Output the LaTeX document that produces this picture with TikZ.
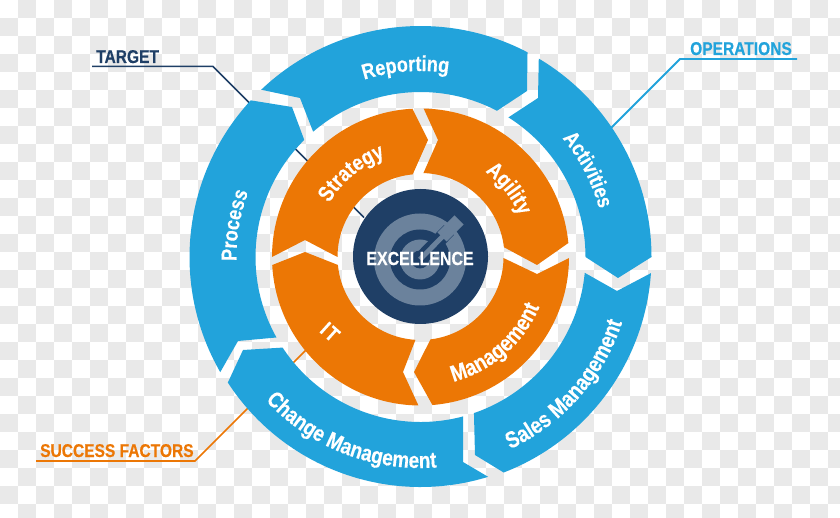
\documentclass[tikz,border=0pt]{standalone}
\usepackage{fontspec}
\setmainfont[FakeStretch=0.84,FakeBold=0.3]{Liberation Sans}
\usetikzlibrary{decorations.text}
\definecolor{ringblue}{HTML}{22A3DB}
\definecolor{ringorange}{HTML}{EC7705}
\definecolor{navy}{HTML}{1F3F66}
\definecolor{slate}{HTML}{6B829C}
\definecolor{check}{HTML}{E9E9E9}
\tikzset{
  blueseg/.style={fill=ringblue},
  orangeseg/.style={fill=ringorange},
  leader/.style={line width=#1,line cap=butt,line join=miter},
  sidelabel/.style={inner sep=0pt,font=\fontsize{18.5}{18.5}\selectfont\bfseries},
}
\newcommand{\PP}[2]{([shift={(#1:#2pt)}]420.5,-257)}
\newcommand{\cwlabel}[5]{% mid, half span, radius, size, text (clockwise: tops outward)
  \path[postaction={decorate},decoration={text along path,text align=center,
    text={|\fontsize{#4}{#4}\selectfont\bfseries\color{white}|#5}}]
    \PP{#1+#2}{#3} arc[start angle={#1+#2},end angle={#1-#2},radius=#3pt];}
\newcommand{\ccwlabel}[5]{% tops inward
  \path[postaction={decorate},decoration={text along path,text align=center,
    text={|\fontsize{#4}{#4}\selectfont\bfseries\color{white}|#5}}]
    \PP{#1-#2}{#3} arc[start angle={#1-#2},end angle={#1+#2},radius=#3pt];}
\begin{document}
\begin{tikzpicture}[x=1pt,y=1pt]
\useasboundingbox (0,-518) rectangle (840,0);
\begin{scope}
\clip (0,-518) rectangle (840,0);
\fill[white] (0,-518) rectangle (840,0);
\foreach \i in {0,...,46}{\foreach \j in {0,...,28}{
  \pgfmathparse{int(mod(\i+\j,2))}
  \ifnum\pgfmathresult=1
    \fill[check] ({\i*18},{-\j*18}) rectangle ({\i*18+18},{-\j*18-18});
  \fi}}
\end{scope}
% leaders
\coordinate (tgtA) at (92,-66.5);\coordinate (tgtB) at (213,-66.5);\coordinate (tgtC) at (364,-217.5);
\coordinate (opsA) at (797,-59);\coordinate (opsB) at (680,-59);\coordinate (opsC) at (610,-129);
\coordinate (sucA) at (36,-461);\coordinate (sucB) at (195,-461);\coordinate (sucC) at (306,-350);
\draw[leader=1.5pt,navy] (tgtA)--(tgtB)--(tgtC);
\draw[leader=1.8pt,ringblue] (opsA)--(opsB)--(opsC);
\draw[leader=1.6pt,ringorange] (sucA)--(sucB)--(sucC);
\node[sidelabel,navy,anchor=base west] (target) at (96,-63) {TARGET};
\node[sidelabel,ringblue,anchor=base west] (operations) at (690,-55) {OPERATIONS};
\node[sidelabel,ringorange,anchor=base west] (success) at (40,-457) {SUCCESS FACTORS};
% blue ring, centre (420.5,-257)
\fill[blueseg] \PP{133.6}{231} arc[start angle=133.6,end angle=62.4,radius=231pt] -- (527,-91) -- \PP{62.4}{165} arc[start angle=62.4,end angle=130.6,radius=165pt] -- (300,-98) -- cycle;
\fill[blueseg] \PP{59.2}{231} arc[start angle=59.2,end angle=0,radius=231pt] -- (618,-278) -- \PP{0}{165} arc[start angle=0,end angle=57.8,radius=165pt] -- (538,-98) -- cycle;
\fill[blueseg] \PP{-4}{231} arc[start angle=-4,end angle=-68.9,radius=231pt] -- (475,-455) -- \PP{-71.1}{165} arc[start angle=-71.1,end angle=-5.5,radius=165pt] -- (617,-291) -- cycle;
\fill[blueseg] \PP{213.1}{230} arc[start angle=213.1,end angle=287.1,radius=230pt] -- (463,-462) -- \PP{285}{165} arc[start angle=285,end angle=213.3,radius=165pt] -- (243,-350) -- cycle;
\fill[blueseg] \PP{137.3}{231} arc[start angle=137.3,end angle=209.9,radius=231pt] -- (238,-341) -- \PP{209.2}{165} arc[start angle=209.2,end angle=134.8,radius=165pt] -- (292,-107) -- cycle;
% orange ring
\fill[orangeseg] \PP{180}{148.5} arc[start angle=180,end angle=93.1,radius=148.5pt] -- (428,-140) -- \PP{95.4}{83} arc[start angle=95.4,end angle=180,radius=83pt] -- (305,-240) -- cycle;
\fill[orangeseg] \PP{88.8}{148.5} arc[start angle=88.8,end angle=5.4,radius=148.5pt] -- (537,-265) -- \PP{6.7}{84} arc[start angle=6.7,end angle=88,radius=84pt] -- (438,-140) -- cycle;
\fill[orangeseg] \PP{-0.4}{148.5} arc[start angle=-0.4,end angle=-85.4,radius=148.5pt] -- (414,-372) -- \PP{-83.1}{83} arc[start angle=-83.1,end angle=-0.7,radius=83pt] -- (537,-274) -- cycle;
\fill[orangeseg] \PP{183.1}{148.5} arc[start angle=183.1,end angle=269.2,radius=148.5pt] -- (403,-372) -- \PP{266.5}{83} arc[start angle=266.5,end angle=185.5,radius=83pt] -- (305,-252) -- cycle;
% centre
\fill[navy] (420.5,-256.5) circle[radius=67.5pt];
\fill[slate] (420,-259.5) circle[radius=46pt];
\fill[navy] (420,-259.5) circle[radius=30pt];
\fill[slate] (420,-259.5) circle[radius=20pt];
\fill[navy] (420,-259.5) circle[radius=9pt];
\draw[navy,line width=14pt] (420,-259.5) -- (449,-230);
\draw[slate,line width=5pt] (420,-259.5) -- (446,-233);
\draw[slate,line width=13pt] (442,-237) -- (459,-220);
\node[inner sep=0pt,white,font=\fontsize{19}{19}\selectfont\bfseries] (excellence) at (420,-258.5) {EXCELLENCE};
% curved labels
\cwlabel{94.5}{40}{186}{21.5}{Reporting}
\cwlabel{170.3}{30}{184}{21.5}{Process}
\cwlabel{27.5}{35}{185}{21.5}{Activities}
\ccwlabel{-41.5}{45}{212}{23}{Sales Management}
\ccwlabel{248.6}{45}{211}{22.5}{Change Management}
\cwlabel{129.5}{45}{106}{22}{Strategy}
\cwlabel{37.7}{40}{107}{22}{Agility}
\ccwlabel{-49}{45}{129}{23}{Management}
\node[inner sep=0pt,white,rotate=-42,font=\fontsize{21}{21}\selectfont\bfseries] (it) at (330,-332) {I\kern1.5pt T};
\end{tikzpicture}
\end{document}
